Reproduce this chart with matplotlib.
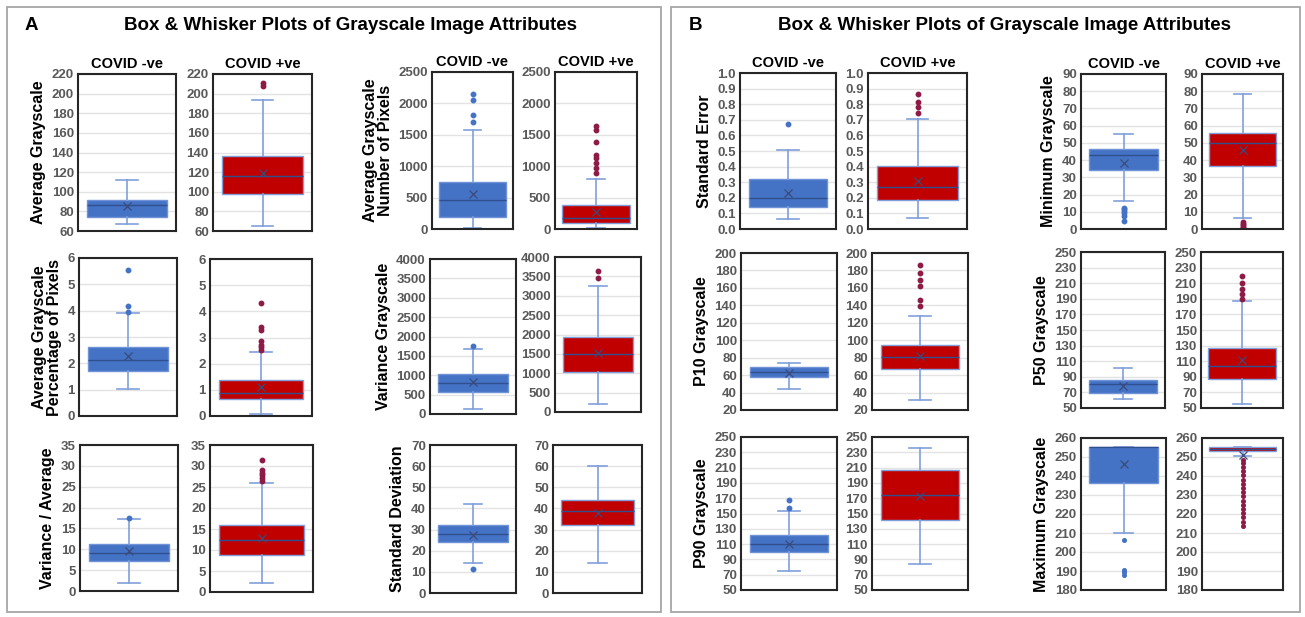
import matplotlib
matplotlib.use("Agg")
import matplotlib.pyplot as plt
from matplotlib.patches import Rectangle

plt.rcParams['font.family'] = ['Liberation Sans', 'DejaVu Sans']

W, H = 1305, 617

# attribute names (y labels) and axis ranges
labels = ["Average Grayscale", "Average Grayscale\nNumber of Pixels",
          "Average Grayscale\nPercentage of Pixels", "Variance Grayscale",
          "Variance / Average", "Standard Deviation",
          "Standard Error", "Minimum Grayscale",
          "P10 Grayscale", "P50 Grayscale",
          "P90 Grayscale", "Maximum Grayscale"]
ylims = [(60, 220, 20), (0, 2500, 500), (0, 6, 1), (0, 4000, 500),
         (0, 35, 5), (0, 70, 10), (0, 1.0, 0.1), (0, 90, 10),
         (20, 200, 20), (50, 250, 20), (50, 250, 20), (180, 260, 10)]

# box stats per attribute: [whislo, q1, med, q3, whishi, mean]
neg_stats = [
    [67, 74, 86, 92, 112, 85],
    [20, 185, 465, 745, 1570, 565],
    [1.03, 1.71, 2.13, 2.61, 3.90, 2.26],
    [132, 580, 791, 1020, 1688, 818],
    [2.0, 7.2, 9.1, 11.3, 17.2, 9.6],
    [14.1, 24.0, 27.8, 32.2, 42.1, 27.6],
    [0.065, 0.142, 0.198, 0.318, 0.508, 0.232],
    [16.1, 34.3, 43.2, 46.2, 55.2, 38.3],
    [44.5, 58.3, 63.2, 69.0, 74.2, 62.5],
    [61.5, 69.4, 81.0, 85.3, 101.5, 78.8],
    [75.2, 99.1, 110.5, 121.7, 153.5, 110.6],
    [210, 236.3, 255, 255, 255, 246.2],
]
neg_fliers = [
    [],
    [1700, 1815, 2060, 2150],
    [3.96, 4.19, 5.55],
    [1758],
    [17.4],
    [11.3],
    [0.673],
    [4.9, 7.8, 9.3, 10.6, 11.6, 12.4],
    [],
    [],
    [157.1, 167.7],
    [187.9, 189.4, 190.6, 206.4],
]
pos_stats = [
    [65, 98, 116, 136, 193, 119],
    [16, 100, 170, 375, 800, 275],
    [0.09, 0.65, 0.88, 1.36, 2.45, 1.09],
    [217, 1026, 1496, 1939, 3261, 1530],
    [2.2, 8.9, 12.3, 15.9, 26.0, 12.9],
    [14.0, 32.0, 38.7, 44.2, 60.3, 37.9],
    [0.073, 0.186, 0.271, 0.403, 0.707, 0.307],
    [6.3, 36.4, 50.1, 56.0, 78.1, 45.9],
    [31.3, 67.1, 80.7, 94.5, 127.5, 81.5],
    [55.2, 86.6, 104.2, 126.8, 187.0, 111.0],
    [83.8, 141.2, 174.3, 207.1, 235.0, 173.5],
    [250.3, 253.2, 254.3, 255.4, 255.4, 251.0],
]
pos_fliers = [
    [207.5, 210.5],
    [898, 967, 1047, 1126, 1179, 1385, 1575, 1638],
    [2.52, 2.62, 2.71, 2.88, 3.29, 3.42, 4.32],
    [3470, 3643],
    [26.5, 27.1, 27.8, 28.4, 29.1, 31.5],
    [],
    [0.745, 0.784, 0.812, 0.864],
    [0.5, 1.3, 2.2, 3.0, 3.8],
    [139.2, 145.9, 162.6, 169.3, 177.4, 186.8],
    [189.3, 195.7, 203.0, 210.0, 219.0],
    [],
    [213.6, 215.9, 218.3, 220.4, 222.7, 224.9, 227.0, 229.3, 231.6, 233.8,
     236.0, 238.1, 240.4, 242.6, 244.7, 246.9, 248.6],
]

# axes pixel boxes (left, top, right, bottom) for the -ve / +ve pair of each attribute
pair_boxes = [
    [(78, 74, 176, 231), (213, 74, 312, 231)],
    [(432, 72, 513, 229), (555, 72, 637, 229)],
    [(79, 258, 177, 416), (210, 259, 312, 416)],
    [(430, 259, 516, 414), (555, 257, 641, 412)],
    [(80, 445, 178, 591), (210, 445, 313, 592)],
    [(430, 445, 516, 593), (553, 445, 642, 593)],
    [(740, 73, 836, 229), (868, 73, 967, 229)],
    [(1081, 74, 1166, 229), (1202, 74, 1283, 229)],
    [(741, 253, 837, 410), (872, 253, 968, 410)],
    [(1081, 252, 1165, 408), (1201, 252, 1283, 408)],
    [(741, 437, 837, 590), (872, 437, 968, 590)],
    [(1081, 438, 1166, 590), (1202, 438, 1283, 590)],
]

BLUE = "#4472C4"
RED = "#C00000"
WHISK = "#7F9FDA"
MED = "#2F4F8F"
MEAN = "#3A4A7A"


def make_stats(s, fl):
    return dict(whislo=s[0], q1=s[1], med=s[2], q3=s[3], whishi=s[4],
                mean=s[5], fliers=fl)


def draw_box(ax, st, fill, flier_col, edge, msize):
    ax.bxp([st], positions=[1], widths=0.82, patch_artist=True,
           showmeans=True, showfliers=True,
           boxprops=dict(facecolor=fill, edgecolor=edge, linewidth=1.0),
           whiskerprops=dict(color=WHISK, linewidth=1.2),
           capprops=dict(color=WHISK, linewidth=1.2),
           capwidths=0.22,
           medianprops=dict(color=MED, linewidth=1.0),
           meanprops=dict(marker="x", markeredgecolor=MEAN, markersize=6,
                          markeredgewidth=0.9),
           flierprops=dict(marker="o", markerfacecolor=flier_col,
                           markeredgecolor=flier_col, markersize=msize))


fig = plt.figure(figsize=(W / 100, H / 100), dpi=100)

# panel borders
for (x0, y0, x1, y1) in [(7, 7, 661, 612), (671, 7, 1300, 612)]:
    fig.patches.append(Rectangle((x0 / W, 1 - y1 / H), (x1 - x0) / W, (y1 - y0) / H,
                                 transform=fig.transFigure, fill=False,
                                 edgecolor="#A6A6A6", linewidth=1.3))

title = "Box & Whisker Plots of Grayscale Image Attributes"
fig.text(25 / W, 1 - 25 / H, "A", fontsize=13.5, fontweight="bold", va="center")
fig.text(351 / W, 1 - 25 / H, title, fontsize=13.5, fontweight="bold",
         ha="center", va="center")
fig.text(689 / W, 1 - 25 / H, "B", fontsize=13.5, fontweight="bold", va="center")
fig.text(1004 / W, 1 - 25 / H, title, fontsize=13.5, fontweight="bold",
         ha="center", va="center")

for i in range(12):
    lo, hi, step = ylims[i]
    n = int(round((hi - lo) / step))
    ticks = [lo + k * step for k in range(n + 1)]
    for j, (box, fill, fcol, edge, head) in enumerate([
            (pair_boxes[i][0], BLUE, BLUE, "#6F93D6", "COVID -ve"),
            (pair_boxes[i][1], RED, "#8E1B45", "#7F9FDA", "COVID +ve")]):
        x0, y0, x1, y1 = box
        ax = fig.add_axes([x0 / W, 1 - y1 / H, (x1 - x0) / W, (y1 - y0) / H])
        st = make_stats(neg_stats[i] if j == 0 else pos_stats[i],
                        neg_fliers[i] if j == 0 else pos_fliers[i])
        draw_box(ax, st, fill, fcol, edge, 2.6 if i == 11 else 3.2)
        ax.set_xlim(0.5, 1.5)
        ax.set_ylim(lo, hi)
        ax.set_yticks(ticks)
        if step < 1:
            ax.set_yticklabels([f"{t:.1f}" for t in ticks])
        else:
            ax.set_yticklabels([f"{int(round(t))}" for t in ticks])
        ax.set_xticks([])
        ax.tick_params(axis="y", length=0, pad=3, labelsize=9.5, labelcolor="#595959")
        for lab in ax.get_yticklabels():
            lab.set_fontweight("bold")
        ax.grid(axis="y", color="#E3E3E3", linewidth=1.0)
        ax.set_axisbelow(True)
        for sp in ax.spines.values():
            sp.set_color("#262626")
            sp.set_linewidth(1.5)
        if j == 0:
            ax.set_ylabel(labels[i], fontsize=11.5, fontweight="bold", labelpad=4,
                          linespacing=1.0)
        if i in (0, 1, 6, 7):
            ax.set_title(head, fontsize=10.5, fontweight="bold", pad=4)

fig.savefig("out.png", dpi=100)
